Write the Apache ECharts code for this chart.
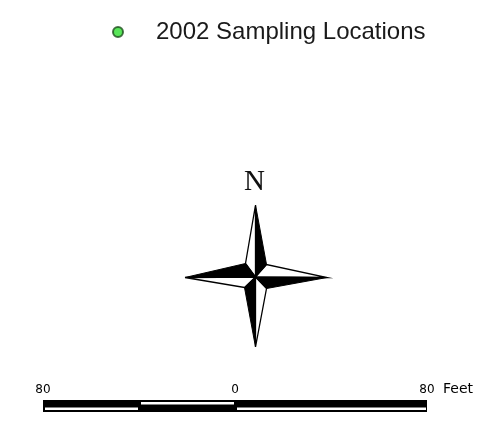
<!DOCTYPE html>
<html><head><meta charset="utf-8">
<script src="https://cdn.jsdelivr.net/npm/echarts@6/dist/echarts.min.js"></script>
<style>html,body{margin:0;padding:0;background:#fff}#c{width:490px;height:423px}</style>
</head><body><div id="c"></div>
<script>
// ---- data ----
const legendLabels = ['2002 Sampling Locations'];
const samplingPoints = [];           // no point symbols shown in this legend panel
const scaleTicks = [-80, 0, 80];     // scale-bar tick positions (feet)
const scaleTickLabels = ['80', '0', '80'];
const scaleUnit = 'Feet';
const segStart = [-80, -40, 0];
const segEnd = [-40, 0, 80];
const segWhiteRow = ['bottom', 'top', 'bottom'];
const northLabel = 'N';

const chart = echarts.init(document.getElementById('c'), null, {renderer: 'canvas'});

// north arrow geometry (decoration, pixel layout)
const C = [255.5, 277], Np = [255.5, 205], Sp = [255.5, 347], Wp = [185, 277.5], Ep = [327, 277.5];
const TL = [245.5, 263.5], TR = [266.5, 264.5], BL = [244.5, 287.5], BR = [266.5, 288.5];
const whiteTris = [[Np, C, TL], [Ep, C, TR], [Sp, C, BR], [Wp, C, BL]];
const blackTris = [[Np, C, TR], [Ep, C, BR], [Sp, C, BL], [Wp, C, TL]];
const graphics = [];
whiteTris.forEach(p => graphics.push({type: 'polygon', shape: {points: p}, style: {fill: '#fff', stroke: '#000', lineWidth: 1.3}}));
blackTris.forEach(p => graphics.push({type: 'polygon', shape: {points: p}, style: {fill: '#000', stroke: '#000', lineWidth: 1}}));
graphics.push({type: 'text', left: 244, top: 168, style: {text: northLabel, font: '29px "Liberation Serif", serif', fill: '#111'}});
graphics.push({type: 'text', left: 443, top: 382, style: {text: scaleUnit, font: '14px "DejaVu Sans", sans-serif', fill: '#000'}});

const segData = segStart.map((s, i) => [s, segEnd[i], segWhiteRow[i] === 'top' ? 1 : 0]);

chart.setOption({
  backgroundColor: '#ffffff',
  animation: false,
  graphic: graphics,
  legend: {
    data: legendLabels,
    left: 107, top: 15,
    itemWidth: 10, itemHeight: 10,
    textStyle: {fontFamily: '"Liberation Sans", Arial, sans-serif', fontSize: 24, color: '#1a1a1a', padding: [0, 0, 0, 28]}
  },
  grid: {left: 43, right: 63, top: 400, height: 12},
  xAxis: {
    type: 'value', min: -80, max: 80, interval: 80, position: 'top',
    axisLine: {show: false}, axisTick: {show: false}, splitLine: {show: false},
    axisLabel: {
      margin: 4, fontSize: 12, color: '#000', fontFamily: '"DejaVu Sans", sans-serif',
      formatter: v => { const i = scaleTicks.indexOf(v); return i >= 0 ? scaleTickLabels[i] : ''; }
    }
  },
  yAxis: {type: 'value', min: 0, max: 1, show: false},
  series: [
    {
      name: legendLabels[0], type: 'scatter', data: samplingPoints, symbol: 'circle', symbolSize: 10,
      itemStyle: {color: '#2fe02f', borderColor: '#1d4d1d', borderWidth: 1}
    },
    {
      type: 'custom', data: segData, silent: true,
      renderItem: function (params, api) {
        const a = api.coord([api.value(0), 1]);
        const b = api.coord([api.value(1), 0]);
        const x0 = a[0], y0 = a[1], x1 = b[0], y1 = b[1];
        const h = y1 - y0;
        const stripeY = api.value(2) === 1 ? y0 + 2 : y0 + h / 2 + 1.5;
        return {
          type: 'group',
          children: [
            {type: 'rect', shape: {x: x0, y: y0, width: x1 - x0, height: h}, style: {fill: '#000'}},
            {type: 'rect', shape: {x: x0 + 2, y: stripeY, width: x1 - x0 - 3, height: 2.5}, style: {fill: '#fff'}}
          ]
        };
      }
    }
  ]
});
</script></body></html>
